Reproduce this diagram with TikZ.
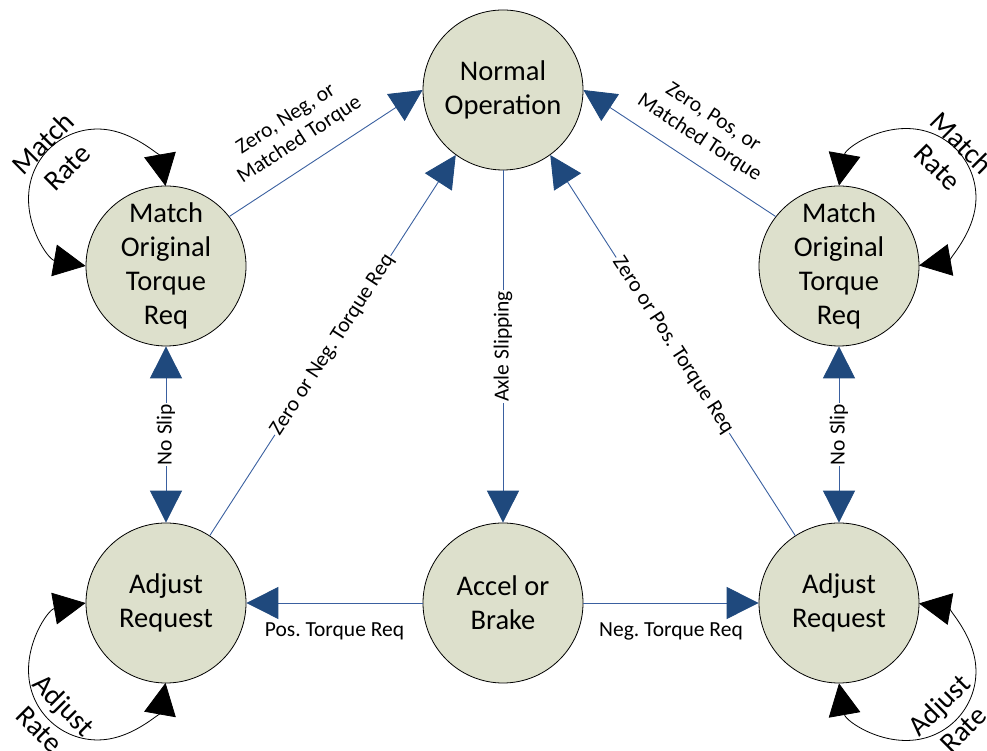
\documentclass[tikz,border=0pt]{standalone}
\usepackage{fontspec}
\setmainfont{Carlito}
\usetikzlibrary{arrows.meta}
\definecolor{circfill}{RGB}{221,224,204}
\definecolor{lineblue}{RGB}{58,96,160}
\definecolor{tipblue}{RGB}{31,73,125}
\frenchspacing
\begin{document}
\begin{tikzpicture}[x=1pt,y=1pt,
  state/.style={circle, draw=black, line width=0.8pt, fill=circfill, minimum size=160pt, inner sep=0pt, align=center, font=\fontsize{28.5}{34}\selectfont},
  conn/.style={draw=lineblue, line width=0.9pt},
  bt/.style={-{Triangle[length=32pt,width=32pt,color=tipblue]}},
  bb/.style={{Triangle[length=32pt,width=32pt,color=tipblue]}-{Triangle[length=32pt,width=32pt,color=tipblue]}},
  loopc/.style={draw=black, line width=0.8pt, {Triangle[length=32pt,width=32pt,color=black]}-{Triangle[length=32pt,width=32pt,color=black]}},
  elabel/.style={font=\fontsize{21.5}{25}\selectfont, inner sep=1pt, align=center},
  onlbl/.style={elabel, fill=white},
  llabel/.style={font=\fontsize{28.5}{34}\selectfont, align=center, inner sep=0pt}
]
\useasboundingbox (0,0) rectangle (987,751);

% states
\node[state] (N)  at (503,661) {Normal\\Operation};
\node[state] (ML) at (166,485) {Match\\Original\\Torque\\Req};
\node[state] (MR) at (839,485) {Match\\Original\\Torque\\Req};
\node[state] (AL) at (166,148) {Adjust\\Request};
\node[state] (AB) at (503,148) {Accel or\\Brake};
\node[state] (AR) at (839,148) {Adjust\\Request};

% connectors
\draw[conn,bt] (ML.38) -- (N.west);
\draw[conn,bt] (MR.142) -- (N.east);
\draw[conn,bt] (AL.57) -- node[onlbl, sloped] (lzn) {Zero or Neg. Torque Req} (N.234);
\draw[conn,bt] (AR.123) -- node[onlbl, sloped] (lzp) {Zero or Pos. Torque Req} (N.306);
\draw[conn,bt] (N.south) -- node[onlbl, rotate=90] (lax) {Axle Slipping} (AB.north);
\draw[conn,bb] (ML.south) -- node[onlbl, rotate=90] (lns1) {No Slip} (AL.north);
\draw[conn,bb] (MR.south) -- node[onlbl, rotate=90] (lns2) {No Slip} (AR.north);
\draw[conn,bt] (AB.west) -- node[elabel, below=18pt] (lpos) {Pos. Torque Req} (AL.east);
\draw[conn,bt] (AB.east) -- node[elabel, below=18pt] (lneg) {Neg. Torque Req} (AR.west);

% top labels
\node[elabel, rotate=33] (lzneg) at (293,621) {Zero, Neg, or\\Matched Torque};
\node[elabel, rotate=-33] (lzpos) at (706,623) {Zero, Pos, or\\Matched Torque};

% self loops
\draw[loopc] (ML.west) arc[start angle=260, end angle=10, radius=69];
\draw[loopc] (MR.north) arc[start angle=170, end angle=-80, radius=69];
\draw[loopc] (AL.west) arc[start angle=100, end angle=350, radius=69];
\draw[loopc] (AR.south) arc[start angle=190, end angle=440, radius=69];

% loop labels
\node[llabel, rotate=45] (lmr1) at (55,596) {Match\\Rate};
\node[llabel, rotate=-45] (lmr2) at (950,596) {Match\\Rate};
\node[llabel, rotate=-45] (lar1) at (52,34) {Adjust\\Rate};
\node[llabel, rotate=45] (lar2) at (951,34) {Adjust\\Rate};
\end{tikzpicture}
\end{document}
